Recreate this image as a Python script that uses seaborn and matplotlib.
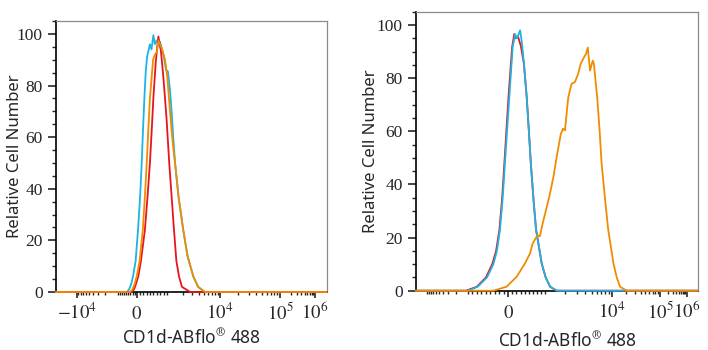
import numpy as np
import pandas as pd
import matplotlib
matplotlib.use("Agg")
import matplotlib.pyplot as plt
import seaborn as sns

# istogrammi: x in canali (0-1024, scala biesponenziale), y = % celle
left_cyan_x = [0, 269, 277, 285, 292, 302, 311, 319, 325, 330, 335, 340, 345, 356, 362, 369, 375, 382, 394,
               407, 417, 424, 432, 438, 444, 451, 464, 482, 498, 520, 538, 564, 1024]
left_cyan_y = [0, 0, 1, 3, 6, 12, 24, 37, 50, 63, 75, 85, 91, 96, 94, 99.5, 96, 97.5, 97,
               92, 86, 85.5, 78, 70, 60, 50, 37, 24, 14, 6, 2, 0, 0]
left_red_x = [0, 287, 296, 303, 312, 322, 337, 347, 356, 363, 369, 378, 388, 398, 407, 419, 429, 438,
              447, 456, 466, 477, 508, 1024]
left_red_y = [0, 0, 1, 3, 6, 12, 24, 37, 50, 63, 75, 89, 99, 93, 83, 67, 50, 37,
              24, 12, 6, 2, 0, 0]
left_orange_x = [0, 281, 290, 298, 306, 317, 329, 337, 344, 350, 356, 368, 375, 382, 388, 394, 402, 413,
                 422, 428, 436, 443, 451, 464, 482, 498, 520, 538, 564, 1024]
left_orange_y = [0, 0, 1, 3, 6, 12, 24, 37, 50, 63, 75, 90, 92, 93, 97.5, 96, 94, 90,
                 83, 75, 65, 57, 50, 37, 24, 14, 6, 2, 0, 0]

right_red_x = [0, 183, 222, 255, 278, 292, 304, 314, 322, 337, 350, 358, 364, 372, 382, 393, 403, 411,
               418, 428, 437, 458, 472, 488, 512, 1024]
right_red_y = [0, 0, 1.5, 5, 10, 15, 23, 35, 48, 73, 91.6, 96.6, 95, 95.5, 92, 85.4, 73, 60,
               48, 34, 23, 10, 5, 1.5, 0, 0]
right_cyan_x = [0, 191, 225, 259, 282, 295, 306, 316, 324, 340, 352, 361, 368, 379, 386, 393, 403, 411,
                418, 428, 437, 458, 472, 488, 512, 1024]
right_cyan_y = [0, 0, 1.5, 5, 10, 15, 23, 35, 48, 73, 91.6, 96.5, 95, 98, 93, 85.4, 73, 60,
                48, 34, 23, 10, 5, 1.5, 0, 0]
right_orange_x = [0, 282, 330, 367, 397, 415, 425, 442, 451, 461, 473, 485, 500, 514, 527, 535, 542,
                  548, 554, 566, 578, 590, 599, 611, 618, 625, 633, 643, 647, 659, 668, 675, 688, 699,
                  718, 730, 742, 766, 1024]
right_orange_y = [0, 0, 1.5, 5.3, 10.3, 14, 17.8, 20.9, 20.5, 25.3, 30.3, 35.3, 42.8, 51.6, 59, 61, 60.3,
                  66.6, 72.8, 77.9, 78.5, 81.6, 85.4, 87.8, 89, 91.5, 82.8, 86.6, 85.4, 72.8, 60, 48, 34, 23,
                  10.3, 5, 1.5, 0, 0]

# etichette asse x (posizione in canali)
left_tick_pos = [79, 306, 621, 848, 980]
left_tick_lab = [r'$-10^4$', r'$0$', r'$10^4$', r'$10^5$', r'$10^6$']
right_tick_pos = [336, 712, 887, 984]
right_tick_lab = [r'$0$', r'$10^4$', r'$10^5$', r'$10^6$']

# ancore delle decadi per le tacche secondarie
left_decadi = [(-1e4, 79), (-1e3, 235), (0, 306), (1e3, 420), (1e4, 621), (1e5, 848), (1e6, 980)]
right_decadi = [(-1e4, 40), (-1e3, 190), (0, 336), (1e3, 470), (1e4, 712), (1e5, 887), (1e6, 984)]

colori = {'ctrl': '#e8141c', 'iso': '#1cb4e4', 'CD1d': '#f08c00'}


def tacche_minori(decadi):
    pos = []
    for (v0, p0), (v1, p1) in zip(decadi[:-1], decadi[1:]):
        if v0 == 0 or v1 == 0:
            # regione lineare vicino allo zero
            for f in np.linspace(0, 1, 10)[1:-1]:
                pos.append(p0 + (p1 - p0) * f)
        elif v0 > 0:
            for m in range(2, 10):
                pos.append(p0 + (p1 - p0) * np.log10(m))
        else:
            for m in range(2, 10):
                pos.append(p1 - (p1 - p0) * np.log10(m))
    pos += [p for _, p in decadi]
    return [p for p in pos if 0 <= p <= 1024]


def tabella(serie):
    righe = []
    for nome, xs, ys in serie:
        righe.append(pd.DataFrame({'canale': xs, 'cellule': ys, 'campione': nome}))
    return pd.concat(righe, ignore_index=True)


def pannello(ax, df, ordine, tick_pos, tick_lab, decadi):
    sns.lineplot(data=df, x='canale', y='cellule', hue='campione', hue_order=ordine,
                 palette=colori, estimator=None, sort=False, linewidth=1.3, legend=False, ax=ax)
    for ln in ax.lines:
        ln.set_clip_on(False)
        ln.set_zorder(3)
    ax.set_xlim(0, 1024)
    ax.set_ylim(0, 105)
    ax.set_yticks([0, 20, 40, 60, 80, 100])
    ax.set_yticks(np.arange(0, 106, 5), minor=True)
    ax.set_xticks(tick_pos)
    ax.set_xticklabels(tick_lab)
    ax.set_xticks(tacche_minori(decadi), minor=True)
    ax.tick_params(axis='y', which='major', length=5.5, width=1.2, pad=4, labelsize=12.5)
    ax.tick_params(axis='y', which='minor', length=3, width=1)
    ax.tick_params(axis='x', which='major', length=4, width=1.2, pad=15.5, labelsize=13.5)
    ax.tick_params(axis='x', which='minor', length=2.5, width=1)
    for lbl in ax.get_xticklabels():
        lbl.set_verticalalignment('baseline')
    for lbl in ax.get_yticklabels():
        lbl.set_fontfamily('Liberation Serif')
    for s in ['left', 'bottom']:
        ax.spines[s].set_color('black')
        ax.spines[s].set_linewidth(1.2)
    for s in ['top', 'right']:
        ax.spines[s].set_color('#8a8a8a')
        ax.spines[s].set_linewidth(0.9)
    ax.set_ylabel('Relative Cell Number', fontsize=12, family='Noto Sans', labelpad=2)
    ax.set_xlabel(r'CD1d-ABflo$^{\circledR}$ 488', fontsize=12.5, family='Noto Sans')


sns.set_style('ticks')
plt.rcParams['mathtext.fontset'] = 'stix'
plt.rcParams['font.family'] = ['Noto Sans', 'DejaVu Sans']

fig = plt.figure(figsize=(7.08, 3.5), dpi=100)
ax1 = fig.add_axes([55.7 / 708, 1 - 292 / 350, 271 / 708, 271 / 350])
ax2 = fig.add_axes([415.7 / 708, 1 - 290.7 / 350, 282 / 708, 279 / 350])

df_sx = tabella([('iso', left_cyan_x, left_cyan_y), ('ctrl', left_red_x, left_red_y),
                 ('CD1d', left_orange_x, left_orange_y)])
df_dx = tabella([('ctrl', right_red_x, right_red_y), ('iso', right_cyan_x, right_cyan_y),
                 ('CD1d', right_orange_x, right_orange_y)])

pannello(ax1, df_sx, ['iso', 'ctrl', 'CD1d'], left_tick_pos, left_tick_lab, left_decadi)
pannello(ax2, df_dx, ['ctrl', 'iso', 'CD1d'], right_tick_pos, right_tick_lab, right_decadi)

ax1.yaxis.set_label_coords(-0.12, 0.5)
ax2.yaxis.set_label_coords(-0.13, 0.5)
ax1.xaxis.set_label_coords(0.5, -0.135)
ax2.xaxis.set_label_coords(0.54, -0.145)

fig.savefig('out.png', dpi=100)
